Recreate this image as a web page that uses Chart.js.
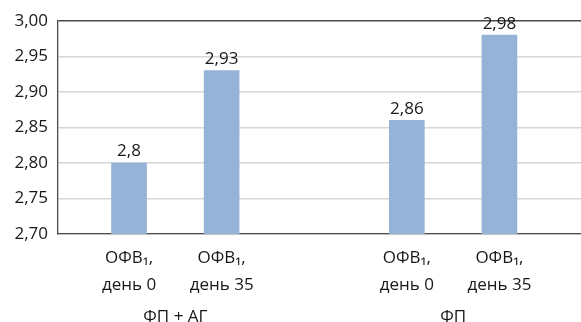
<!DOCTYPE html>
<html lang="ru">
<head>
<meta charset="utf-8">
<title>ОФВ1</title>
<script src="https://cdn.jsdelivr.net/npm/chart.js@4/dist/chart.umd.min.js"></script>
<style>
  html, body { margin: 0; padding: 0; background: #ffffff; }
  #wrap { width: 581px; height: 322px; }
</style>
</head>
<body>
<div id="wrap"><canvas id="chart" width="581" height="322"></canvas></div>
<script>
// Category slots along the x axis (the empty slot separates the two groups)
const categories = [
  ['ОФВ₁,', 'день 0'],
  ['ОФВ₁,', 'день 35'],
  [],
  ['ОФВ₁,', 'день 0'],
  ['ОФВ₁,', 'день 35']
];
// Group captions, each centred under its pair of bars
const groups = ['ФП + АГ', 'ФП'];
const groupSlots = [[0, 1], [3, 4]];
// Bar values
const values = [2.8, 2.93, null, 2.86, 2.98];
// Y axis ticks
const yTicks = [2.70, 2.75, 2.80, 2.85, 2.90, 2.95, 3.00];

const FONT = "'Open Sans', 'Noto Sans', sans-serif";
const TEXT = '#1a1718';
const comma = v => String(v).replace('.', ',');

const points = [];
values.forEach((v, i) => { if (v !== null) points.push({ x: i + 1, y: v }); });

const valueLabels = {
  id: 'valueLabels',
  afterDatasetsDraw(chart) {
    const ctx = chart.ctx;
    const meta = chart.getDatasetMeta(0);
    ctx.save();
    ctx.font = '17px ' + FONT;
    ctx.fillStyle = TEXT;
    ctx.textAlign = 'center';
    ctx.textBaseline = 'bottom';
    meta.data.forEach((bar, i) => {
      ctx.fillText(comma(points[i].y), bar.x, bar.y - 3);
    });
    ctx.restore();
  }
};

new Chart(document.getElementById('chart'), {
  type: 'bar',
  data: {
    datasets: [{
      data: points,
      backgroundColor: '#95b3d7',
      borderWidth: 0,
      barThickness: 35
    }]
  },
  options: {
    responsive: false,
    animation: false,
    devicePixelRatio: 1,
    layout: { padding: { top: 21, right: 0, left: 0, bottom: 0 } },
    plugins: { legend: { display: false }, tooltip: { enabled: false } },
    scales: {
      y: {
        min: 2.70,
        max: 3.00,
        afterBuildTicks(scale) { scale.ticks = yTicks.map(v => ({ value: v })); },
        afterFit(scale) { scale.width = 58; },
        ticks: {
          color: TEXT,
          padding: 10,
          font: { family: FONT, size: 17 },
          callback: v => Number(v).toFixed(2).replace('.', ',')
        },
        grid: {
          drawTicks: false,
          lineWidth: 1.5,
          color: ctx => (ctx.tick && Math.abs(ctx.tick.value - 3) < 1e-9) ? '#4a4a4a' : '#d6d6d6'
        },
        border: { color: '#4a4a4a', width: 1.3 }
      },
      x: {
        type: 'linear',
        position: 'bottom',
        offset: false,
        weight: 0,
        min: 0.233,
        max: 5.881,
        afterBuildTicks(scale) { scale.ticks = categories.map((c, i) => ({ value: i + 1 })); },
        afterFit(scale) { scale.height = 60; },
        ticks: {
          color: TEXT,
          padding: 11,
          maxRotation: 0,
          autoSkip: false,
          font: { family: FONT, size: 17, lineHeight: '27px' },
          callback: v => categories[Math.round(v) - 1] || ''
        },
        grid: { display: false, drawTicks: false },
        border: { color: '#4a4a4a', width: 1.3 }
      },
      groups: {
        type: 'linear',
        position: 'bottom',
        offset: false,
        weight: 1,
        min: 0.233,
        max: 5.881,
        afterBuildTicks(scale) {
          scale.ticks = groupSlots.map(s => ({ value: (s[0] + s[1]) / 2 + 1 }));
        },
        afterFit(scale) { scale.height = 28; },
        ticks: {
          color: TEXT,
          padding: 13,
          maxRotation: 0,
          autoSkip: false,
          font: { family: FONT, size: 17, lineHeight: '20px' },
          callback: (v, i) => groups[i]
        },
        grid: { display: false, drawTicks: false },
        border: { display: false }
      }
    }
  },
  plugins: [valueLabels]
});
</script>
</body>
</html>
